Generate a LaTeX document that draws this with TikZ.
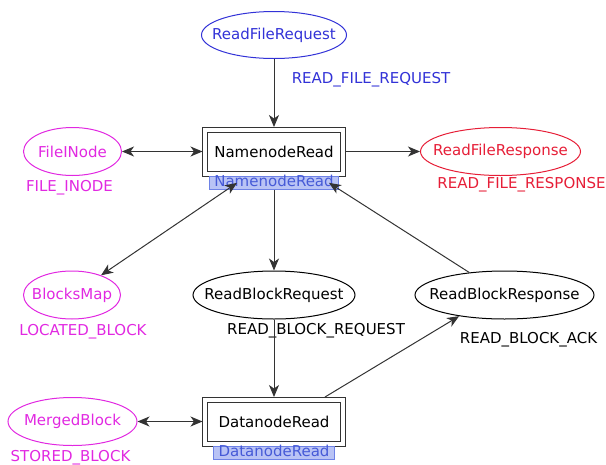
\documentclass[tikz,border=0pt]{standalone}
\usepackage{fontspec}
\setmainfont{DejaVu Sans}
\usepackage{tikz}
\usetikzlibrary{shapes.geometric}
\usetikzlibrary{arrows.meta}
\usetikzlibrary {positioning}
\definecolor{cpnblue}{RGB}{50,50,215}
\definecolor{cpnmag}{RGB}{225,40,225}
\definecolor{cpnred}{RGB}{230,30,55}
\definecolor{subfill}{RGB}{185,195,245}
\definecolor{subdraw}{RGB}{110,130,230}
\definecolor{subtext}{RGB}{70,90,215}
\tikzset{place/.style={ellipse,draw,line width=1pt,inner xsep=-20pt,inner ysep=0pt,minimum height=48pt,font=\fontsize{15}{17}\selectfont}}
\tikzset{trans/.style={rectangle,draw=black!80,line width=1pt,fill=white,minimum width=133pt,minimum height=39pt,outer sep=5pt,font=\fontsize{15}{17}\selectfont}}
\tikzset{frame/.style={draw=black!80,line width=1pt}}
\tikzset{sub node/.style={rectangle,draw=subdraw,fill=subfill,text=subtext,inner xsep=5pt,inner ysep=0.5pt,text height=10pt,text depth=2pt,line width=0.7pt,font=\fontsize{15}{15}\selectfont}}
\tikzset{tag/.style={font=\fontsize{15}{17}\selectfont}}

\begin{document}
\begin{tikzpicture}[>={Stealth[length=12pt,width=10pt,inset=3.5pt]}]
	\useasboundingbox (0pt,0pt) rectangle (606pt,-464pt);
	\node[place,draw=cpnblue,text=cpnblue,minimum width=145pt,minimum height=47pt] (rfreq) at (274pt,-35pt) {ReadFileRequest};
	\node[trans] (nnread) [below = 68pt of rfreq] {NamenodeRead};
	\node[place,draw=cpnmag,text=cpnmag,minimum width=98pt] (fileinode) [left = 80.5pt of nnread] {FileINode};
	\node[place,draw=cpnred,text=cpnred,minimum width=160pt] (rfresp) [right = 74.5pt of nnread] {ReadFileResponse};
	\node[place,minimum width=162pt] (rbreq) [below = 94.5pt of nnread] {ReadBlockRequest};
	\node[place,draw=cpnmag,text=cpnmag,minimum width=97pt] (blocksmap) [left = 71.5pt of rbreq] {BlocksMap};
	\node[place,minimum width=179pt] (rbresp) [right = 59pt of rbreq] {ReadBlockResponse};
	\node[trans] (dnread) [below = 77.5pt of rbreq] {DatanodeRead};
	\node[place,draw=cpnmag,text=cpnmag,minimum width=129pt] (merged) [left = 65pt of dnread] {MergedBlock};

	% outer lines of the transitions
	\draw[frame] (nnread.north west) rectangle (nnread.south east);
	\draw[frame] (dnread.north west) rectangle (dnread.south east);

	% transition names
	\node[sub node] (nnsub) [below = 0pt of nnread] {NamenodeRead};
	\node[sub node] (dnsub) [below = 0pt of dnread] {DatanodeRead};

	% colour sets
	\node[tag,text=cpnblue,xshift=97pt,yshift=-45pt] (rfreqcs) at (rfreq) {READ\_FILE\_REQUEST};
	\node[tag,text=cpnmag,xshift=-3pt,yshift=-36pt] (fileinodecs) at (fileinode) {FILE\_INODE};
	\node[tag,text=cpnred,xshift=21pt,yshift=-33pt] (rfrespcs) at (rfresp) {READ\_FILE\_RESPONSE};
	\node[tag,text=cpnmag,xshift=11pt,yshift=-37pt] (blocksmapcs) at (blocksmap) {LOCATED\_BLOCK};
	\node[tag,xshift=42pt,yshift=-36pt] (rbreqcs) at (rbreq) {READ\_BLOCK\_REQUEST};
	\node[tag,xshift=24pt,yshift=-45pt] (rbrespcs) at (rbresp) {READ\_BLOCK\_ACK};
	\node[tag,text=cpnmag,xshift=-2pt,yshift=-36pt] (mergedcs) at (merged) {STORED\_BLOCK};

	\path [->,black!80,line width=1pt]
	(rfreq) edge (nnread)
	(nnread) edge (rfresp)
	(nnsub) edge (rbreq)
	(rbresp) edge ([xshift=55pt]nnsub.center)
	(rbreq) edge (dnread)
	([xshift=51pt]dnread.north) edge (rbresp.205);

	\path [<->,black!80,line width=1pt]
	(fileinode) edge (nnread)
	(blocksmap) edge ([xshift=-37pt]nnsub.center)
	(merged) edge (dnread);
\end{tikzpicture}
\end{document}
